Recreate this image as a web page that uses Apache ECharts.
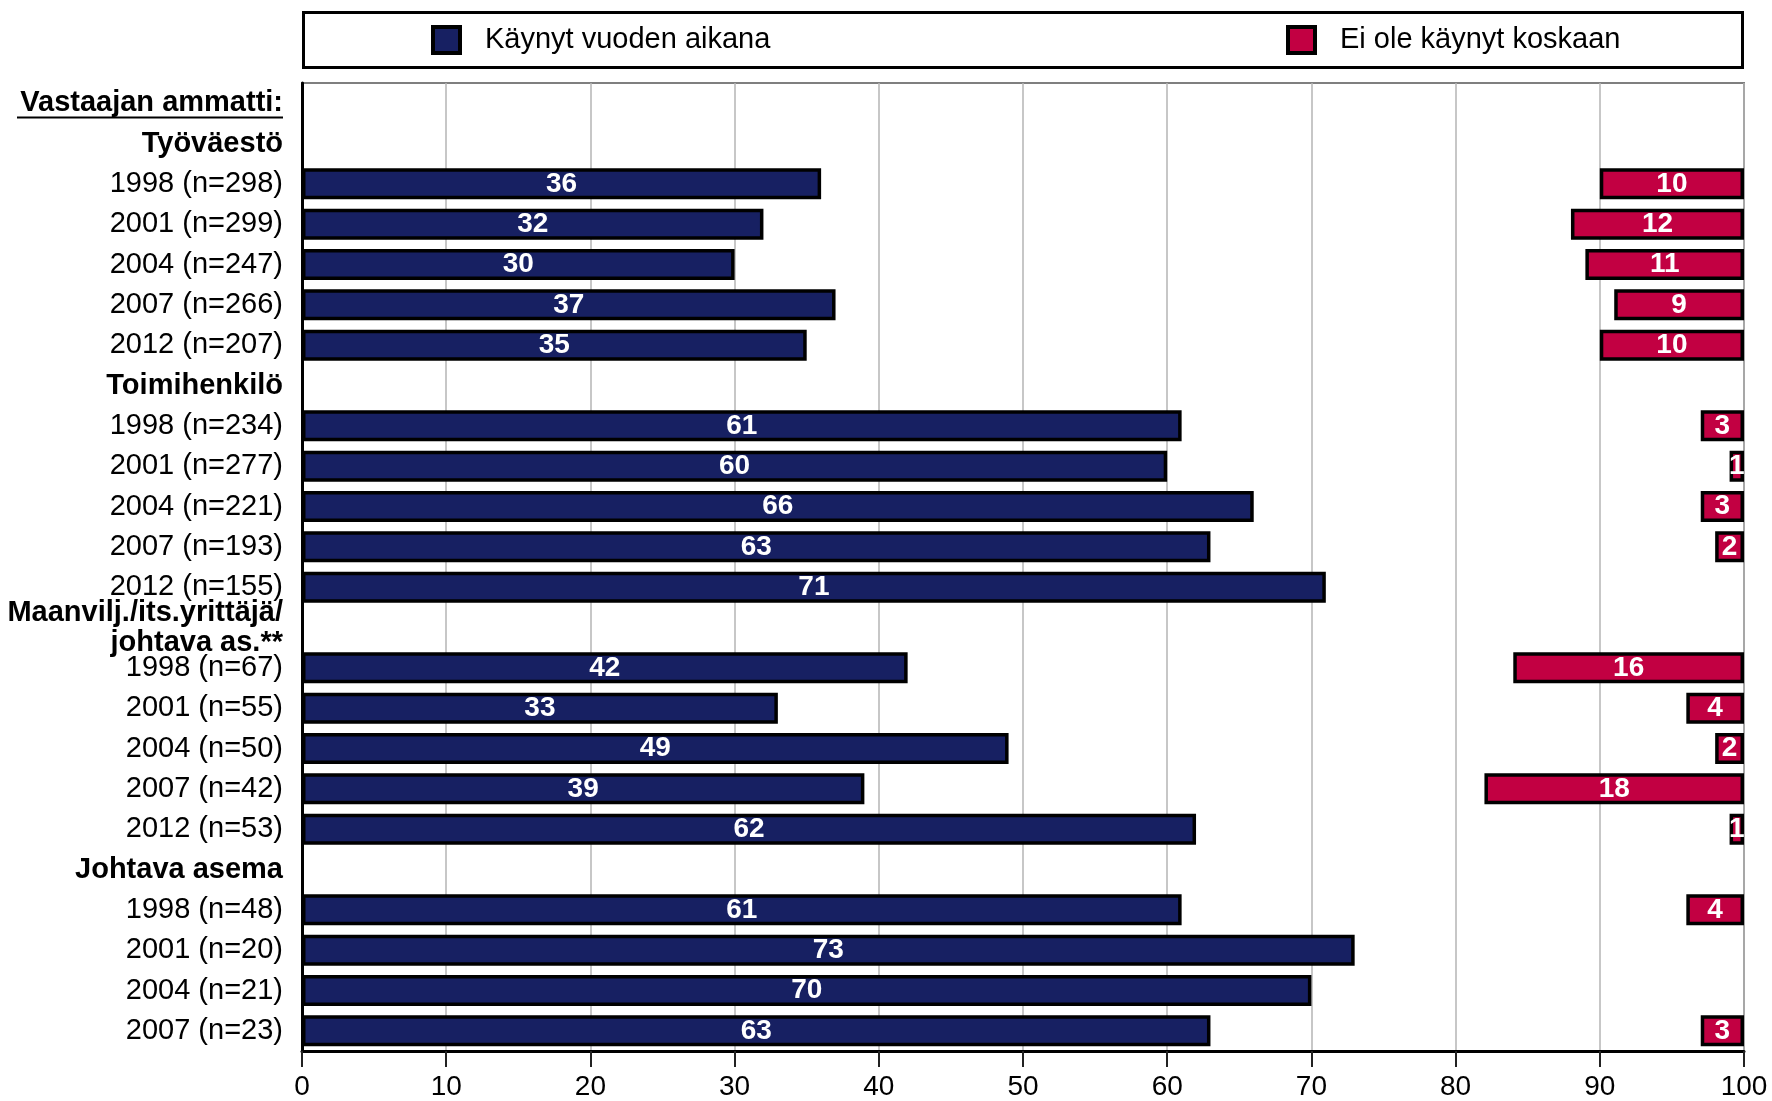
<!DOCTYPE html>
<html>
<head>
<meta charset="utf-8">
<script src="https://cdn.jsdelivr.net/npm/echarts@6/dist/echarts.min.js"></script>
<style>
  html, body { margin: 0; padding: 0; background: #fff; }
  #chart { width: 1772px; height: 1101px; }
</style>
</head>
<body>
<div id="chart"></div>
<script>
const categories = [
  'Vastaajan ammatti:',
  'Työväestö',
  '1998 (n=298)', '2001 (n=299)', '2004 (n=247)', '2007 (n=266)', '2012 (n=207)',
  'Toimihenkilö',
  '1998 (n=234)', '2001 (n=277)', '2004 (n=221)', '2007 (n=193)', '2012 (n=155)',
  'Maanvilj./its.yrittäjä/\njohtava as.**',
  '1998 (n=67)', '2001 (n=55)', '2004 (n=50)', '2007 (n=42)', '2012 (n=53)',
  'Johtava asema',
  '1998 (n=48)', '2001 (n=20)', '2004 (n=21)', '2007 (n=23)'
];
const headerRows = [
  'Vastaajan ammatti:', 'Työväestö', 'Toimihenkilö',
  'Maanvilj./its.yrittäjä/\njohtava as.**', 'Johtava asema'
];
const seriesNames = ['Käynyt vuoden aikana', 'Ei ole käynyt koskaan'];
const visitedYear = [
  null, null, 36, 32, 30, 37, 35,
  null, 61, 60, 66, 63, 71,
  null, 42, 33, 49, 39, 62,
  null, 61, 73, 70, 63
];
const neverVisited = [
  null, null, 10, 12, 11, 9, 10,
  null, 3, 1, 3, 2, null,
  null, 16, 4, 2, 18, 1,
  null, 4, null, null, 3
];
const xMin = 0, xMax = 100, xStep = 10;

const FONT = '"Liberation Sans", Arial, Helvetica, sans-serif';
const NAVY = '#172062';
const RED = '#c20042';

const chart = echarts.init(document.getElementById('chart'), null, { renderer: 'canvas' });

const barLabel = {
  show: true,
  position: 'inside',
  color: '#fff',
  fontFamily: FONT,
  fontWeight: 'bold',
  fontSize: 28,
  formatter: p => (p.value == null ? '' : String(p.value))
};

const legendCommon = {
  top: 25, padding: 0,
  icon: 'rect',
  itemWidth: 27, itemHeight: 26,
  itemStyle: { borderColor: '#000', borderWidth: 4 },
  textStyle: { fontFamily: FONT, fontSize: 29, color: '#000', padding: [0, 0, 0, 20] },
  selectedMode: false
};

const option = {
  backgroundColor: '#fff',
  animation: false,
  textStyle: { fontFamily: FONT },
  graphic: [
    {
      type: 'rect',
      shape: { x: 303.5, y: 12.5, width: 1439, height: 55 },
      style: { fill: '#fff', stroke: '#000', lineWidth: 3 },
      z: -1
    },
    {
      type: 'line',
      shape: { x1: 17, y1: 117.5, x2: 283, y2: 117.5 },
      style: { stroke: '#000', lineWidth: 2 },
      z: 10
    }
  ],
  legend: [
    Object.assign({ data: [seriesNames[0]], left: 431 }, legendCommon),
    Object.assign({ data: [seriesNames[1]], left: 1286 }, legendCommon)
  ],
  grid: {
    left: 302, right: 28, top: 83, bottom: 50,
    show: true, borderColor: '#7f7f7f', borderWidth: 2,
    containLabel: false
  },
  xAxis: [
    {
      type: 'value', min: xMin, max: xMax, interval: xStep,
      position: 'bottom',
      axisLine: { show: true, lineStyle: { color: '#000', width: 3 } },
      axisTick: { show: true, length: 16, lineStyle: { color: '#222', width: 2 } },
      axisLabel: { color: '#000', fontSize: 28, fontFamily: FONT, margin: 22 },
      splitLine: { show: true, lineStyle: { color: '#b4b4b4', width: 1.5 } }
    },
    {
      type: 'value', min: xMin, max: xMax, inverse: true,
      position: 'top', show: false,
      splitLine: { show: false }
    }
  ],
  yAxis: {
    type: 'category', inverse: true, data: categories,
    axisLine: { show: true, lineStyle: { color: '#000', width: 3 } },
    axisTick: { show: false },
    splitLine: { show: false },
    axisLabel: {
      margin: 19,
      interval: 0,
      color: '#000',
      fontFamily: FONT,
      fontSize: 29,
      formatter: v => headerRows.includes(v)
        ? v.split('\n').map(l => '{h|' + l + '}').join('\n')
        : '{n|' + v + '}',
      rich: {
        n: { fontSize: 29, fontFamily: FONT, color: '#000' },
        h: { fontSize: 29, fontFamily: FONT, fontWeight: 'bold', color: '#000', lineHeight: 30 }
      }
    }
  },
  series: [
    {
      name: seriesNames[0], type: 'bar', xAxisIndex: 0,
      data: visitedYear, barWidth: 31, barGap: '-100%',
      itemStyle: { color: NAVY, borderColor: '#000', borderWidth: 3.5 },
      label: barLabel
    },
    {
      name: seriesNames[1], type: 'bar', xAxisIndex: 1,
      data: neverVisited, barWidth: 31, barGap: '-100%',
      itemStyle: { color: RED, borderColor: '#000', borderWidth: 3.5 },
      label: barLabel
    }
  ]
};

chart.setOption(option);
</script>
</body>
</html>
